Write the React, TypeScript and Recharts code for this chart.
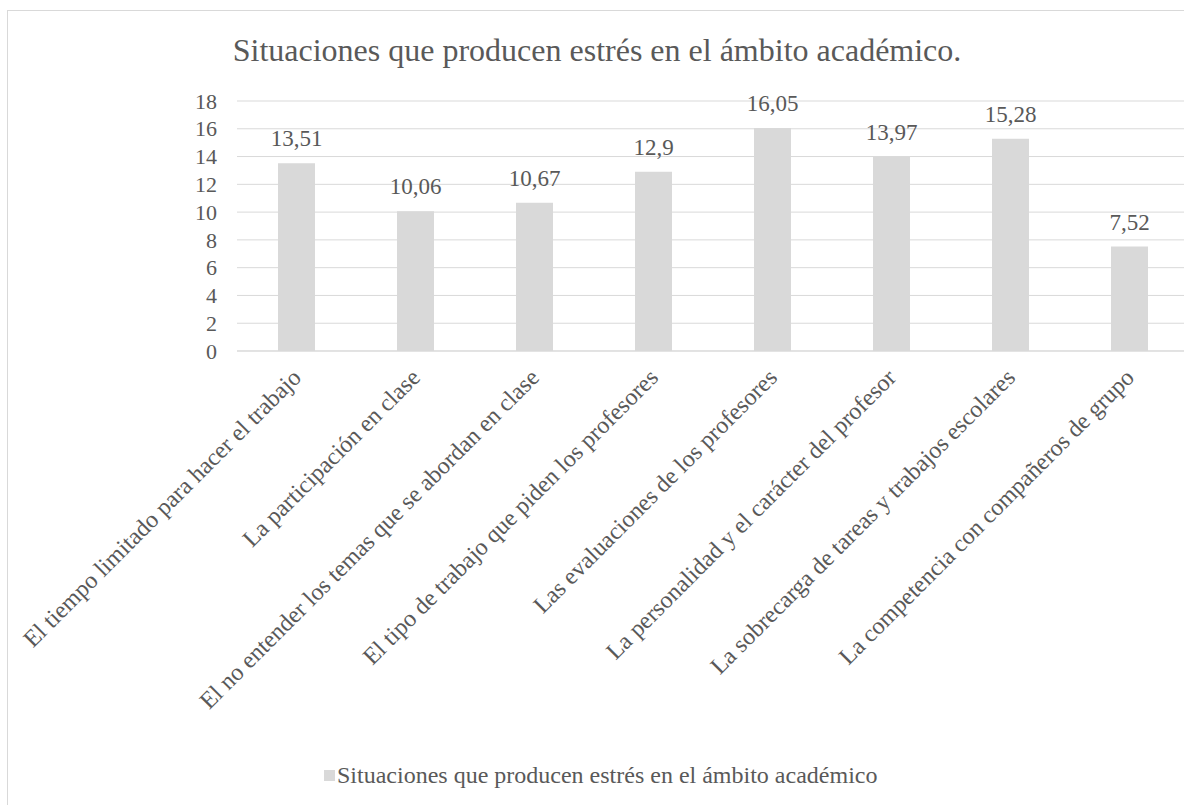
import React from 'react';
import { BarChart, Bar, XAxis, YAxis, CartesianGrid, LabelList, Legend } from 'recharts';

const categories: string[] = [
  'El tiempo limitado para hacer el trabajo',
  'La participación en clase',
  'El no entender los temas que se abordan en clase',
  'El tipo de trabajo que piden los profesores',
  'Las evaluaciones de los profesores',
  'La personalidad y el carácter del profesor',
  'La sobrecarga de tareas y trabajos escolares',
  'La competencia con compañeros de grupo',
];
const values: number[] = [13.51, 10.06, 10.67, 12.9, 16.05, 13.97, 15.28, 7.52];
const yTicks: number[] = [0, 2, 4, 6, 8, 10, 12, 14, 16, 18];
const seriesName = 'Situaciones que producen estrés en el ámbito académico';
const title = 'Situaciones que producen estrés en el ámbito académico.';

const data = categories.map((c, i) => ({ name: c, value: values[i] }));

const FONT = '"Liberation Serif", "Times New Roman", serif';
const TEXT = '#595959';
const GRAY = '#d9d9d9';

const XTick = (props: any) => {
  const { x, y, payload } = props;
  const ax = x + 6;
  const ay = y + 28;
  return (
    <text
      x={ax}
      y={ay}
      textAnchor="end"
      transform={`rotate(-45, ${ax}, ${ay})`}
      fill={TEXT}
      style={{ fontFamily: FONT, fontSize: 24 }}
    >
      {payload.value}
    </text>
  );
};

const YTick = (props: any) => {
  const { x, y, payload } = props;
  return (
    <text x={x} y={y} dy="0.35em" textAnchor="end" fill={TEXT} style={{ fontFamily: FONT, fontSize: 22 }}>
      {payload.value}
    </text>
  );
};

const BarLabel = (props: any) => {
  const { x, y, width, value } = props;
  return (
    <text
      x={x + width / 2}
      y={y - 17}
      textAnchor="middle"
      fill={TEXT}
      style={{ fontFamily: FONT, fontSize: 23 }}
    >
      {String(value).replace('.', ',')}
    </text>
  );
};

const LegendContent = () => (
  <svg width={600} height={40} style={{ display: 'block' }}>
    <rect x={0} y={12} width={11} height={11} fill={GRAY} />
    <text x={13} y={25} fill={TEXT} style={{ fontFamily: FONT, fontSize: 24 }}>
      {seriesName}
    </text>
  </svg>
);

export default function App() {
  return (
    <div style={{ position: 'relative', width: 1184, height: 805, overflow: 'hidden', background: '#fff' }}>
      <style>{`body{margin:0;}`}</style>
      <div
        style={{
          position: 'absolute',
          left: 7,
          top: 10,
          width: 1200,
          height: 820,
          border: `1px solid ${GRAY}`,
          boxSizing: 'border-box',
        }}
      />
      <svg width={1184} height={90} style={{ position: 'absolute', left: 0, top: 0 }}>
        <text x={597} y={61} textAnchor="middle" fill={TEXT} style={{ fontFamily: FONT, fontSize: 32 }}>
          {title}
        </text>
      </svg>
      <div style={{ position: 'absolute', left: 0, top: 0 }}>
        <BarChart
          width={1200}
          height={805}
          data={data}
          margin={{ top: 101, right: 11, left: 0, bottom: 0 }}
          barCategoryGap={0}
        >
          <CartesianGrid vertical={false} stroke={GRAY} strokeWidth={1} />
          <XAxis
            dataKey="name"
            interval={0}
            height={454}
            axisLine={{ stroke: GRAY, strokeWidth: 1 }}
            tickLine={false}
            tickSize={0}
            tickMargin={0}
            tick={<XTick />}
          />
          <YAxis
            width={237}
            domain={[0, 18]}
            ticks={yTicks}
            interval={0}
            axisLine={false}
            tickLine={false}
            tickSize={0}
            tickMargin={20}
            tick={<YTick />}
          />
          <Legend
            verticalAlign="middle"
            align="center"
            layout="horizontal"
            wrapperStyle={{ top: 758, left: 324, width: 600, height: 40 }}
            content={() => <LegendContent />}
          />
          <Bar dataKey="value" name={seriesName} fill={GRAY} barSize={37} isAnimationActive={false}>
            <LabelList dataKey="value" content={<BarLabel />} />
          </Bar>
        </BarChart>
      </div>
    </div>
  );
}
